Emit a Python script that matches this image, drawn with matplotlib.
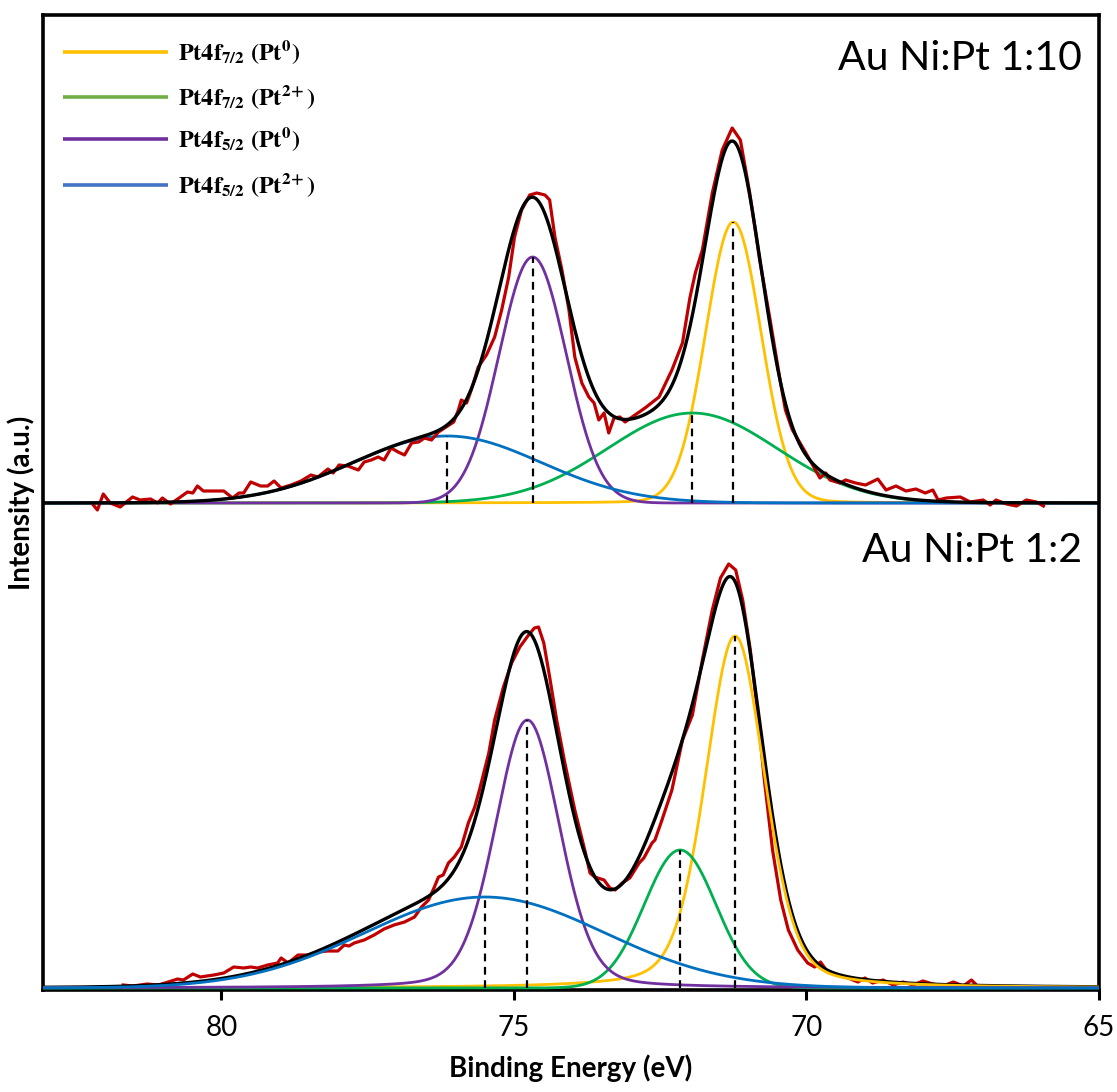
import numpy as np
import matplotlib
matplotlib.use("Agg")
import matplotlib.pyplot as plt

plt.rcParams['font.family'] = ['Lato', 'DejaVu Sans']
plt.rcParams['mathtext.fontset'] = 'stix'

# ---------------- data ----------------
labels = [r'$\mathbf{Pt4f_{7/2}\ (Pt^{0})}$', r'$\mathbf{Pt4f_{7/2}\ (Pt^{2\!+})}$',
          r'$\mathbf{Pt4f_{5/2}\ (Pt^{0})}$', r'$\mathbf{Pt4f_{5/2}\ (Pt^{2\!+})}$']
comp_colors = ['#FFC000', '#00B050', '#7030A0', '#0070C0']
legend_colors = ['#FFC000', '#70AD47', '#7030A0', '#4472C4']
sample_names = ['Au Ni:Pt 1:10', 'Au Ni:Pt 1:2']

# fitted components (binding energy eV, height, FWHM eV, lorentzian fraction)
top_centers = [71.25, 71.95, 74.68, 76.14]
top_heights = [281, 90, 246, 67]
top_fwhm = [1.12, 3.41, 1.35, 3.77]
top_eta = [0.05, 0.0, 0.0, 0.0]

bot_centers = [71.22, 72.16, 74.77, 75.50]
bot_heights = [352, 138, 268, 91]
bot_fwhm = [1.20, 1.44, 1.30, 4.83]
bot_eta = [0.30, 0.0, 0.20, 0.0]

top_offset = 485

# raw data
top_raw_ev = [82.19, 82.12, 82.02, 81.90, 81.73, 81.52, 81.39, 81.21, 81.09, 81.01, 80.87, 80.70,
              80.58, 80.49, 80.41, 80.31, 80.13, 79.96, 79.81, 79.70, 79.62, 79.50, 79.33, 79.21,
              79.10, 78.98, 78.81, 78.64, 78.47, 78.35, 78.18, 78.09, 77.99, 77.84, 77.66, 77.56,
              77.44, 77.32, 77.22, 77.10, 76.98, 76.87, 76.75, 76.63, 76.53, 76.41, 76.29, 76.16,
              76.03, 75.95, 75.90, 75.81, 75.73, 75.61, 75.47, 75.33, 75.21, 75.09, 74.99, 74.87,
              74.73, 74.61, 74.47, 74.39, 74.30, 74.18, 74.06, 73.96, 73.84, 73.72, 73.63, 73.55,
              73.46, 73.38, 73.29, 73.19, 73.10, 72.98, 72.76, 72.52, 72.30, 72.12, 71.99, 71.90,
              71.78, 71.61, 71.44, 71.27, 71.13, 70.97, 70.80, 70.63, 70.46, 70.36, 70.24, 70.01,
              69.77, 69.67, 69.60, 69.43, 69.33, 69.16, 68.99, 68.78, 68.64, 68.47, 68.30, 68.13,
              67.97, 67.84, 67.75, 67.61, 67.37, 67.20, 66.98, 66.86, 66.76, 66.58, 66.41, 66.24,
              66.07, 65.95]
top_raw_int = [-2, -7, 9, 0, -4, 6, 3, 4, 0, 5, -1, 6,
               11, 10, 17, 12, 12, 12, 5, 10, 10, 21, 17, 17,
               22, 15, 18, 22, 28, 26, 34, 30, 38, 37, 33, 41,
               43, 46, 43, 55, 51, 48, 60, 61, 65, 63, 71, 76,
               81, 93, 103, 100, 113, 136, 148, 166, 193, 226, 266, 293,
               308, 310, 308, 303, 266, 233, 193, 146, 120, 106, 100, 83,
               90, 70, 85, 86, 81, 86, 95, 106, 133, 160, 206, 230,
               253, 310, 353, 375, 363, 310, 243, 186, 126, 93, 73, 50,
               25, 30, 23, 20, 23, 20, 18, 24, 13, 17, 12, 14,
               10, 13, 3, 5, 6, 1, 3, -2, 3, -1, -3, 3,
               1, -3]

bot_raw_ev = [81.68, 81.51, 81.27, 81.08, 80.91, 80.75, 80.65, 80.49, 80.36, 80.13, 79.96, 79.79,
              79.62, 79.50, 79.38, 79.21, 79.04, 78.98, 78.86, 78.69, 78.52, 78.35, 78.18, 78.01,
              77.90, 77.82, 77.73, 77.56, 77.39, 77.22, 77.05, 76.87, 76.70, 76.58, 76.46, 76.36,
              76.29, 76.21, 76.12, 76.02, 75.90, 75.78, 75.67, 75.59, 75.43, 75.33, 75.18, 75.04,
              74.90, 74.75, 74.65, 74.58, 74.49, 74.39, 74.27, 74.13, 73.96, 73.79, 73.70, 73.62,
              73.46, 73.36, 73.27, 73.15, 73.02, 72.86, 72.78, 72.64, 72.59, 72.47, 72.30, 72.12,
              71.95, 71.78, 71.61, 71.47, 71.33, 71.21, 71.09, 70.96, 70.84, 70.72, 70.58, 70.44,
              70.31, 70.15, 69.98, 69.86, 69.76, 69.64, 69.47, 69.29, 69.12, 69.00, 68.87, 68.69,
              68.52, 68.35, 68.18, 68.01, 67.84, 67.67, 67.49, 67.32, 67.18, 67.06]
bot_raw_int = [3, 2, 4, 3, 6, 9, 8, 14, 11, 13, 15, 21,
               20, 21, 20, 23, 25, 30, 25, 33, 33, 36, 37, 37,
               43, 42, 45, 48, 53, 59, 63, 66, 71, 81, 88, 101,
               111, 113, 125, 131, 141, 165, 181, 198, 235, 268, 301, 325,
               341, 353, 360, 361, 345, 311, 268, 225, 178, 138, 115, 111,
               108, 100, 98, 105, 110, 125, 130, 145, 148, 168, 198, 248,
               273, 328, 378, 410, 424, 418, 388, 338, 278, 208, 138, 88,
               58, 38, 25, 21, 26, 16, 13, 10, 6, 10, 5, 8,
               3, 6, 3, 7, 4, 2, 6, 2, 8, 1]

x_ticks = [80, 75, 70, 65]
x_range = (83.05, 65.0)


def pvoigt(x, c, h, w, eta):
    g = np.exp(-4 * np.log(2) * (x - c) ** 2 / w ** 2)
    l = 1.0 / (1 + 4 * (x - c) ** 2 / w ** 2)
    return h * ((1 - eta) * g + eta * l)


# ---------------- figure ----------------
fig = plt.figure(figsize=(11.17, 10.92), dpi=100)
ax = fig.add_axes([43 / 1117, 1 - 990 / 1092, (1099 - 43) / 1117, (990 - 15) / 1092])

xg = np.linspace(x_range[0], x_range[1], 2000)

spectra = [
    (top_offset, top_centers, top_heights, top_fwhm, top_eta, top_raw_ev, top_raw_int),
    (0, bot_centers, bot_heights, bot_fwhm, bot_eta, bot_raw_ev, bot_raw_int),
]

for k, (off, cs, hs, ws, es, rx, ry) in enumerate(spectra):
    comps = [pvoigt(xg, c, h, w, e) for c, h, w, e in zip(cs, hs, ws, es)]
    fit = np.sum(comps, axis=0)
    ax.plot(rx, np.array(ry) + off, color='#C00000', lw=2.3, zorder=3, solid_joinstyle='round')
    zc = 2 if k == 0 else 4.5
    for comp, col in zip(comps, comp_colors):
        ax.plot(xg, comp + off, color=col, lw=2.0, zorder=zc)
    ax.plot(xg, fit + off, color='black', lw=2.4, zorder=4)
    ax.vlines(cs, off, np.array(hs) + off, colors='black', linestyles=(0, (3.5, 2.5)),
              lw=1.6, zorder=5)

ax.set_xlim(*x_range)
ax.set_ylim(-2, 973)
ax.set_xticks(x_ticks)
ax.set_yticks([])
ax.tick_params(axis='x', direction='out', length=7, width=2.2, labelsize=20, pad=11)
for s in ax.spines.values():
    s.set_linewidth(2.6)

ax.set_xlabel('Binding Energy (eV)', fontsize=20, fontweight='bold', labelpad=10)
ax.set_ylabel('Intensity (a.u.)', fontsize=20, fontweight='bold', labelpad=6)

ax.text(0.984, 0.944, sample_names[0], transform=ax.transAxes, ha='right', va='baseline',
        fontsize=29.5)
ax.text(0.984, 0.439, sample_names[1], transform=ax.transAxes, ha='right', va='baseline',
        fontsize=29.5)

# legend drawn manually
leg_y = [0.962, 0.916, 0.873, 0.826]
for yy, lab, col in zip(leg_y, labels, legend_colors):
    ax.plot([0.019, 0.118], [yy, yy], transform=ax.transAxes, color=col, lw=2.6,
            solid_capstyle='butt')
    ax.text(0.128, yy, lab, transform=ax.transAxes, ha='left', va='center', fontsize=17.5)

fig.savefig('out.png', dpi=100)
